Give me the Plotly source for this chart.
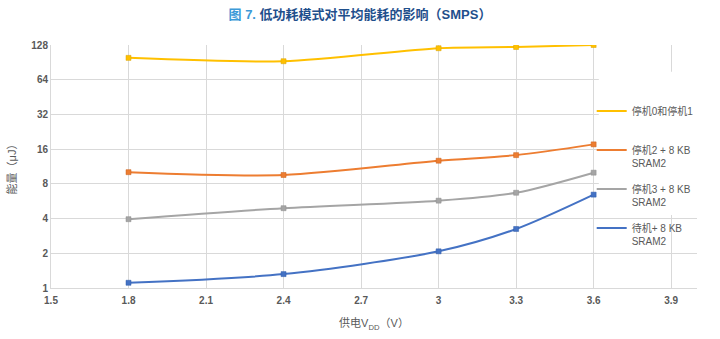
import plotly.graph_objects as go

vdd = [1.8, 2.4, 3.0, 3.3, 3.6]
stop01 = [99, 92.6, 120, 123, 128]
stop2 = [10.1, 9.55, 12.7, 14.2, 17.6]
stop3 = [3.95, 4.92, 5.72, 6.7, 10.0]
standby = [1.11, 1.32, 2.08, 3.25, 6.45]

names = ["停机0和停机1<br> ", "停机2 + 8 KB<br>SRAM2", "停机3 + 8 KB<br>SRAM2", "待机+ 8 KB<br>SRAM2"]
series = [stop01, stop2, stop3, standby]
colors = ["#FFC000", "#ED7D31", "#A5A5A5", "#4472C4"]
marker_lines = ["#d9a300", "#c9611c", "#8c8c8c", "#2f5aa8"]

x_ticks = [1.5, 1.8, 2.1, 2.4, 2.7, 3.0, 3.3, 3.6, 3.9]
x_ticklabels = ["1.5", "1.8", "2.1", "2.4", "2.7", "3", "3.3", "3.6", "3.9"]
y_ticks = [1, 2, 4, 8, 16, 32, 64, 128]

fig = go.Figure()
for i, (n, s, c, mc) in enumerate(zip(names, series, colors, marker_lines)):
    fig.add_trace(go.Scatter(
        x=vdd, y=s, name=n, mode="lines",
        line=dict(color=c, width=2, shape="spline", smoothing=0.8),
        legendgroup=f"g{i}",
    ))
    fig.add_trace(go.Scatter(
        x=vdd, y=s, name=n, mode="markers", showlegend=False,
        marker=dict(symbol="square", size=5, color=c, line=dict(color=mc, width=0.5)),
        legendgroup=f"g{i}",
    ))

# white backdrop behind the legend text (hides gridlines, stays under the data)
fig.add_shape(type="rect", xref="x", yref="y",
              x0=3.62, x1=4.0, y0=4.3, y1=75,
              fillcolor="white", line=dict(width=0), layer="between")

font_main = "Liberation Sans, Arial, Noto Sans CJK SC, sans-serif"

fig.update_layout(
    width=720, height=339,
    margin=dict(l=51, r=23, t=45, b=51),
    paper_bgcolor="white", plot_bgcolor="white",
    font=dict(family=font_main, color="#595959", size=11),
    title=dict(
        text="<b><span style='color:#3d9ad8'>图 7.</span> 低功耗模式对平均能耗的影响（SMPS）</b>",
        x=0.5, xanchor="center", y=0.97, yanchor="top",
        font=dict(size=13, color="#1f4f8c", family=font_main),
    ),
    xaxis=dict(
        range=[1.5, 4.0], tickvals=x_ticks, ticktext=["<b>%s</b>" % t for t in x_ticklabels],
        showgrid=True, gridcolor="#d9d9d9", gridwidth=1,
        showline=True, linecolor="#d9d9d9", linewidth=1,
        zeroline=False, ticks="outside", ticklen=3, tickcolor="rgba(0,0,0,0)",
        tickfont=dict(size=10, color="#595959", family=font_main),
        title=dict(text="供电V<sub>DD</sub>（V）", font=dict(size=11, color="#595959"), standoff=14),
    ),
    yaxis=dict(
        type="log", range=[0, 2.10721], tickvals=y_ticks, ticktext=["<b>%d</b>" % v for v in y_ticks],
        showgrid=True, gridcolor="#d9d9d9", gridwidth=1,
        showline=True, linecolor="#d9d9d9", linewidth=1,
        zeroline=False, ticks="",
        tickfont=dict(size=10, color="#595959", family=font_main),
        title=dict(text="能量（μJ）", font=dict(size=11, color="#595959"), standoff=12),
    ),
    legend=dict(
        x=0.837, xanchor="left", y=0.782, yanchor="top",
        bgcolor="rgba(255,255,255,0)",
        font=dict(size=10, color="#595959"),
        traceorder="grouped", tracegroupgap=10,
        itemwidth=30, valign="top",
    ),
)

fig.write_html("out.html")
